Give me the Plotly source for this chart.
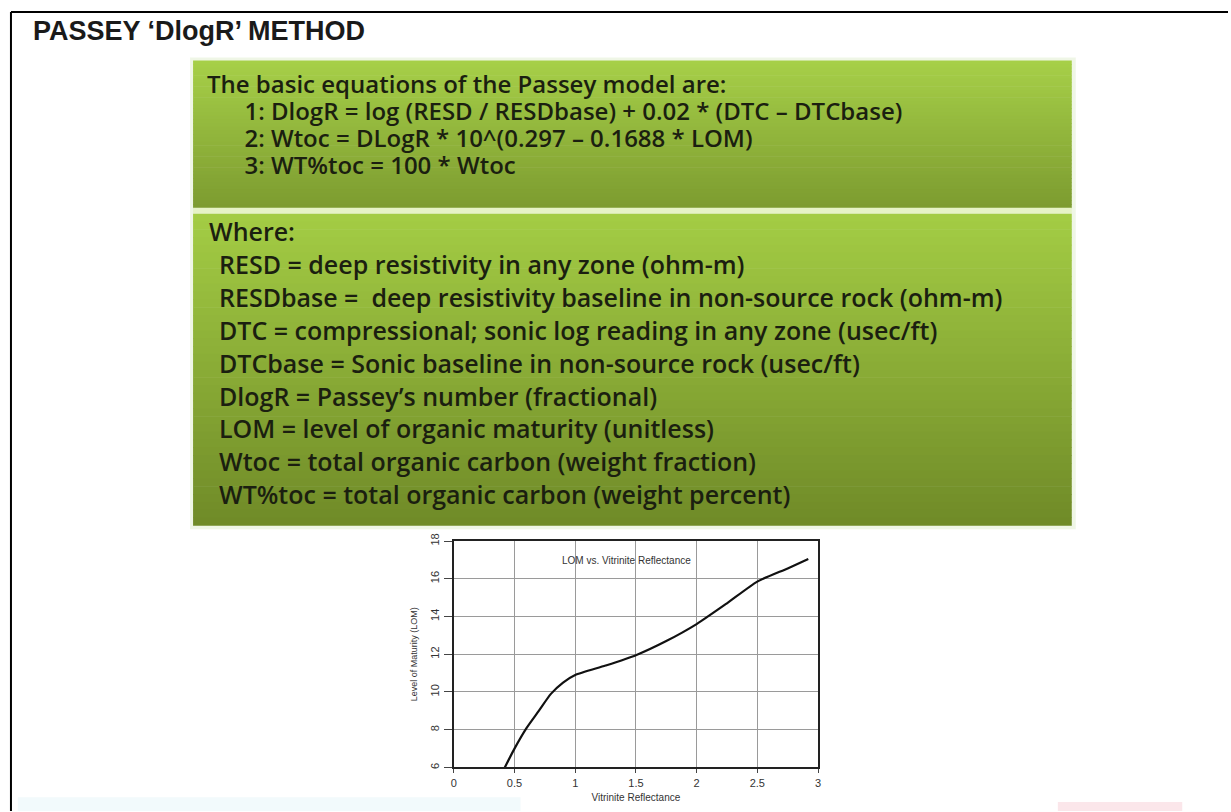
import plotly.graph_objects as go

W, H = 1231, 812

# LOM vs vitrinite reflectance curve
vitrinite = [0.42, 0.5, 0.6, 0.7, 0.8, 0.9, 1.0, 1.25, 1.5, 1.75, 2.0, 2.25, 2.5, 2.75, 2.92]
lom = [6.0, 7.0, 8.1, 9.0, 9.9, 10.5, 10.9, 11.4, 11.95, 12.7, 13.6, 14.7, 15.85, 16.55, 17.05]

x_ticks = [0, 0.5, 1, 1.5, 2, 2.5, 3]
x_labels = ["0", "0.5", "1", "1.5", "2", "2.5", "3"]
y_ticks = [6, 8, 10, 12, 14, 16, 18]

title_text = "PASSEY \u2018DlogR\u2019 METHOD"
equations = [
    "The basic equations of the Passey model are:",
    "1: DlogR = log (RESD / RESDbase) + 0.02 * (DTC \u2013 DTCbase)",
    "2: Wtoc = DLogR * 10^(0.297 \u2013 0.1688 * LOM)",
    "3: WT%toc = 100 * Wtoc",
]
definitions = [
    "Where:",
    "RESD = deep resistivity in any zone (ohm-m)",
    "RESDbase =  deep resistivity baseline in non-source rock (ohm-m)",
    "DTC = compressional; sonic log reading in any zone (usec/ft)",
    "DTCbase = Sonic baseline in non-source rock (usec/ft)",
    "DlogR = Passey\u2019s number (fractional)",
    "LOM = level of organic maturity (unitless)",
    "Wtoc = total organic carbon (weight fraction)",
    "WT%toc = total organic carbon (weight percent)",
]


def px(x):
    return x / W


def py(y):
    return 1 - y / H


def mix(c1, c2, t):
    return "rgb(%d,%d,%d)" % tuple(round(a + (b - a) * t) for a, b in zip(c1, c2))


def gradient_box(x0, x1, y0, y1, top, bottom, n=40):
    out = []
    step = (y1 - y0) / n
    for i in range(n):
        out.append(dict(
            type="rect", xref="paper", yref="paper", layer="below",
            x0=px(x0), x1=px(x1), y0=py(y0 + i * step), y1=py(y0 + (i + 1) * step + 0.6),
            fillcolor=mix(top, bottom, i / (n - 1)), line_width=0,
        ))
    return out


shapes = []
# faint tints from the slide background
shapes.append(dict(type="rect", xref="paper", yref="paper", layer="below",
                   x0=px(15), x1=px(520), y0=py(812), y1=py(798),
                   fillcolor="rgba(230,246,250,0.5)", line_width=0))
shapes.append(dict(type="rect", xref="paper", yref="paper", layer="below",
                   x0=px(1060), x1=px(1185), y0=py(812), y1=py(803),
                   fillcolor="rgba(250,220,225,0.7)", line_width=0))
# soft shadow behind boxes
shapes.append(dict(type="rect", xref="paper", yref="paper", layer="below",
                   x0=px(188), x1=px(1078), y0=py(50), y1=py(527),
                   fillcolor="rgba(220,234,200,0.45)", line_width=0))
shapes += gradient_box(191, 1074, 53, 202, (166, 207, 72), (125, 156, 48))
shapes.append(dict(type="rect", xref="paper", yref="paper", layer="below",
                   x0=px(191), x1=px(1074), y0=py(202), y1=py(208),
                   fillcolor="#e6f3c6", line_width=0))
shapes += gradient_box(191, 1074, 208, 523, (163, 204, 68), (112, 139, 40))
# slide frame (top and left)
shapes.append(dict(type="line", xref="paper", yref="paper",
                   x0=px(8), x1=1, y0=py(4), y1=py(4), line=dict(color="black", width=2)))
shapes.append(dict(type="line", xref="paper", yref="paper",
                   x0=px(8), x1=px(8), y0=py(4), y1=0, line=dict(color="black", width=2)))

annotations = [dict(
    text=title_text, xref="paper", yref="paper", x=px(28), y=py(23),
    xanchor="left", yanchor="middle", showarrow=False,
    font=dict(family="Liberation Sans, Arial, sans-serif", size=27, color="#1a1a1a", weight="bold"),
)]

body_family = "Open Sans, Lato, sans-serif"
indent = "&nbsp;" * 6

# box 1: one block, base size sets the tighter line pitch
eq_lines = [equations[0]] + [indent + t for t in equations[1:]]
annotations.append(dict(
    text="<br>".join("<span style='font-size:24px'>%s</span>" % t for t in eq_lines),
    xref="paper", yref="paper",
    x=px(203), y=py(117), xanchor="left", yanchor="middle", align="left", showarrow=False,
    font=dict(family=body_family, size=20.8, color="#1b1f10", weight=600),
))

# box 2
span = "<span style='font-size:25px'>%s</span>"
annotations.append(dict(
    text=span % definitions[0], xref="paper", yref="paper",
    x=px(205), y=py(226), xanchor="left", yanchor="middle", showarrow=False,
    font=dict(family=body_family, size=25, color="#1b1f10", weight=600),
))
annotations.append(dict(
    text="<br>".join(span % t for t in definitions[1:]), xref="paper", yref="paper",
    x=px(215), y=py(375), xanchor="left", yanchor="middle", align="left", showarrow=False,
    font=dict(family=body_family, size=25.3, color="#1b1f10", weight=600),
))

annotations.append(dict(
    text="LOM vs. Vitrinite Reflectance", xref="paper", yref="paper", x=px(627), y=py(559),
    xanchor="center", yanchor="middle", showarrow=False,
    font=dict(family="Liberation Sans, Arial, sans-serif", size=10, color="#333333"),
))

fig = go.Figure()
fig.add_trace(go.Scatter(
    x=vitrinite, y=lom, mode="lines",
    line=dict(color="#111111", width=2.2, shape="spline", smoothing=0.6),
    showlegend=False,
))

chart_font = dict(family="Liberation Sans, Arial, sans-serif", size=11, color="#333333")
fig.update_layout(
    width=W, height=H,
    margin=dict(l=0, r=0, t=0, b=0),
    paper_bgcolor="white", plot_bgcolor="white",
    shapes=shapes, annotations=annotations,
    xaxis=dict(
        domain=[px(453), px(819)], range=[0, 3],
        tickvals=x_ticks, ticktext=x_labels, tickfont=chart_font,
        showgrid=True, gridcolor="#9a9a9a", gridwidth=1,
        showline=True, linecolor="#222222", linewidth=2, mirror=True,
        ticks="outside", ticklen=4, tickcolor="#444444", zeroline=False,
        title=dict(text="Vitrinite Reflectance", font=dict(chart_font, size=10), standoff=6),
    ),
    yaxis=dict(
        domain=[py(768), py(539)], range=[6, 18],
        tickvals=y_ticks, tickfont=chart_font, tickangle=-90,
        showgrid=True, gridcolor="#9a9a9a", gridwidth=1,
        showline=True, linecolor="#222222", linewidth=2, mirror=True,
        ticks="outside", ticklen=8, tickcolor="#444444", zeroline=False,
        title=dict(text="Level of Maturity (LOM)", font=dict(chart_font, size=9), standoff=10),
    ),
)

fig.write_html(
    "out.html",
    config={"displayModeBar": False},
    post_script="document.body.style.margin='0';document.body.style.overflow='hidden';",
)
